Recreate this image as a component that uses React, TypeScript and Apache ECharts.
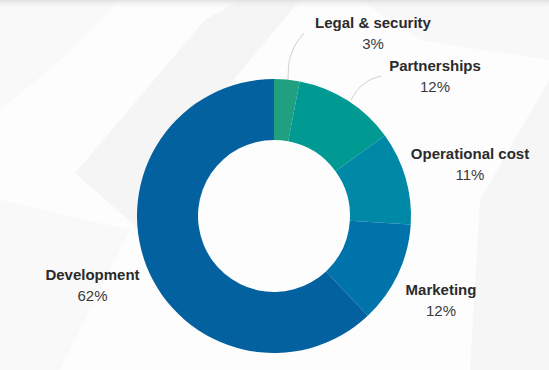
import React, { useEffect, useRef } from "react";
import * as echarts from "echarts";

const categories = ["Legal & security", "Partnerships", "Operational cost", "Marketing", "Development"];
const values = [3, 12, 11, 12, 62];
const colors = ["#20a07f", "#009a93", "#0089a6", "#0074aa", "#0461a0"];

const labelPos: [number, number][] = [
  [373, 33],
  [435, 75.5],
  [470, 163.5],
  [441, 299.5],
  [92.5, 285],
];
const linePts: (number[][] | null)[] = [
  [[288, 79], [289, 52], [304, 33]],
  [[351, 100], [362, 82], [381, 76]],
  null,
  null,
  null,
];

export default function App() {
  const ref = useRef<HTMLDivElement>(null);
  useEffect(() => {
    const chart = echarts.init(ref.current!, undefined, { renderer: "svg" });
    chart.setOption({
      animation: false,
      backgroundColor: "#fdfdfd",
      graphic: [
        { type: "polygon", silent: true, z: -10, shape: { points: [[75, 173], [205, 20], [240, 0], [300, 0], [200, 120], [140, 230]] }, style: { fill: "#f5f5f5" } },
        { type: "polygon", silent: true, z: -10, shape: { points: [[0, 0], [120, 0], [60, 60], [0, 110]] }, style: { fill: "#f9f9f9" } },
        { type: "polygon", silent: true, z: -10, shape: { points: [[0, 200], [130, 230], [60, 370], [0, 370]] }, style: { fill: "#f9f9f9" } },
        { type: "polygon", silent: true, z: -10, shape: { points: [[549, 80], [549, 370], [470, 370], [480, 200]] }, style: { fill: "#f6f6f6" } },
        { type: "polygon", silent: true, z: -10, shape: { points: [[360, 0], [549, 0], [549, 60], [420, 40]] }, style: { fill: "#f8f8f8" } },
        {
          type: "rect", silent: true, z: -9, shape: { x: 0, y: 0, width: 549, height: 8 },
          style: { fill: { type: "linear", x: 0, y: 0, x2: 0, y2: 1, colorStops: [{ offset: 0, color: "rgba(220,220,220,0.8)" }, { offset: 1, color: "rgba(240,240,240,0)" }] } },
        },
      ],
      series: [
        {
          type: "pie",
          center: [274, 216],
          radius: [76, 137],
          startAngle: 90,
          clockwise: true,
          avoidLabelOverlap: false,
          itemStyle: { borderWidth: 0 },
          emphasis: { disabled: true },
          label: {
            show: true,
            position: "outside",
            formatter: "{n|{b}}\n{p|{c}%}",
            rich: {
              n: { fontFamily: "Liberation Sans", fontWeight: "bold", fontSize: 15, color: "#2b2b2b", lineHeight: 21, align: "center" },
              p: { fontFamily: "Liberation Sans", fontSize: 15, color: "#3a3a3a", lineHeight: 21, align: "center" },
            },
          },
          labelLine: { show: true, smooth: 0.4, lineStyle: { color: "#cfcfcf", width: 1 } },
          labelLayout: (params: any) => {
            const i = params.dataIndex;
            const out: any = { x: labelPos[i][0], y: labelPos[i][1], align: "center", verticalAlign: "middle" };
            if (linePts[i]) out.labelLinePoints = linePts[i];
            return out;
          },
          data: categories.map((c, i) => ({
            name: c,
            value: values[i],
            itemStyle: { color: colors[i] },
            labelLine: { show: linePts[i] !== null },
          })),
        },
      ],
    });
    return () => chart.dispose();
  }, []);
  return <div ref={ref} style={{ position: "fixed", left: 0, top: 0, width: 549, height: 370 }} />;
}
